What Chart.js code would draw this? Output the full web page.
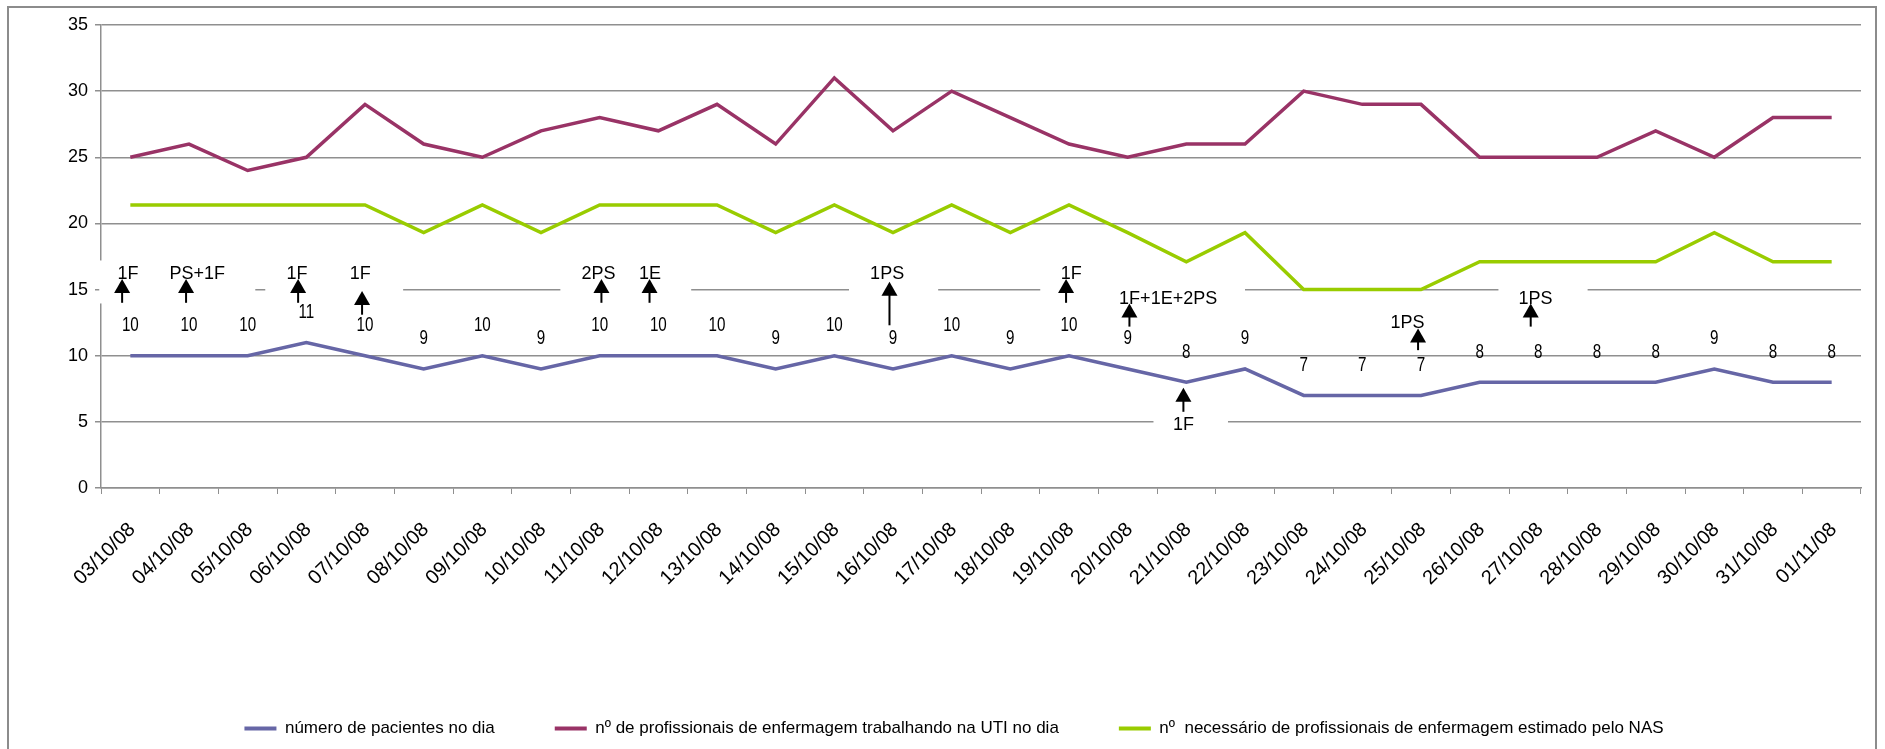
<!DOCTYPE html>
<html lang="pt">
<head>
<meta charset="utf-8">
<title>Pacientes e profissionais de enfermagem na UTI</title>
<script src="https://cdn.jsdelivr.net/npm/chart.js@4.4.1/dist/chart.umd.min.js"></script>
<style>
  html, body { margin: 0; padding: 0; background: #fff; overflow: hidden; }
  #moldura { position: absolute; left: 7px; top: 6px; width: 1870px; height: 800px; border: 2px solid #8c8c8c; box-sizing: border-box; }
  #grafico { position: absolute; left: 0; top: 0; }
</style>
</head>
<body>
<div id="moldura"></div>
<canvas id="grafico" width="1885" height="749"></canvas>
<script>
// datas (eixo x)
const datas = [
  '03/10/08', '04/10/08', '05/10/08', '06/10/08', '07/10/08', '08/10/08', '09/10/08', '10/10/08',
  '11/10/08', '12/10/08', '13/10/08', '14/10/08', '15/10/08', '16/10/08', '17/10/08', '18/10/08',
  '19/10/08', '20/10/08', '21/10/08', '22/10/08', '23/10/08', '24/10/08', '25/10/08', '26/10/08',
  '27/10/08', '28/10/08', '29/10/08', '30/10/08', '31/10/08', '01/11/08'
];

const pacientes = [10, 10, 10, 11, 10, 9, 10, 9, 10, 10, 10, 9, 10, 9, 10, 9, 10, 9, 8, 9, 7, 7, 7, 8, 8, 8, 8, 9, 8, 8];

const profissionais = [25, 26, 24, 25, 29, 26, 25, 27, 28, 27, 29, 26, 31, 27, 30, 28, 26, 25, 26, 26, 30, 29, 29, 25, 25, 25, 27, 25, 28, 28];

const necessarioNAS = [21.4, 21.4, 21.4, 21.4, 21.4, 19.3, 21.4, 19.3, 21.4, 21.4, 21.4, 19.3, 21.4, 19.3, 21.4, 19.3,
  21.4, 19.3, 17.1, 19.3, 15, 15, 15, 17.1, 17.1, 17.1, 17.1, 19.3, 17.1, 17.1];

const nomesSeries = [
  'número de pacientes no dia',
  'nº de profissionais de enfermagem trabalhando na UTI no dia',
  'nº  necessário de profissionais de enfermagem estimado pelo NAS'
];

const ticksY = [0, 5, 10, 15, 20, 25, 30, 35];

// caixas de texto com setas (posição em índice da categoria / valor do eixo y)
const anotacoes = [
  { texto: '1F',        tx: -0.04, ty: 16.2,  seta: -0.14, ponta: 15.8,  pe: 14.0 },
  { texto: 'PS+1F',     tx: 1.14,  ty: 16.2,  seta: 0.95,  ponta: 15.8,  pe: 14.0 },
  { texto: '1F',        tx: 2.84,  ty: 16.2,  seta: 2.86,  ponta: 15.8,  pe: 14.0 },
  { texto: '1F',        tx: 3.92,  ty: 16.2,  seta: 3.95,  ponta: 14.9,  pe: 13.1 },
  { texto: '2PS',       tx: 7.98,  ty: 16.2,  seta: 8.03,  ponta: 15.8,  pe: 14.0 },
  { texto: '1E',        tx: 8.86,  ty: 16.2,  seta: 8.85,  ponta: 15.8,  pe: 14.0 },
  { texto: '1PS',       tx: 12.9,  ty: 16.2,  seta: 12.94, ponta: 15.6,  pe: 12.3 },
  { texto: '1F',        tx: 16.04, ty: 16.2,  seta: 15.95, ponta: 15.8,  pe: 14.0 },
  { texto: '1F+1E+2PS', tx: 17.69, ty: 14.25, seta: 17.03, ponta: 13.95, pe: 12.2 },
  { texto: '1F',        tx: 17.95, ty: 4.76,  seta: 17.95, ponta: 7.58,  pe: 5.76 },
  { texto: '1PS',       tx: 21.77, ty: 12.5,  seta: 21.95, ponta: 12.06, pe: 10.42 },
  { texto: '1PS',       tx: 23.95, ty: 14.3,  seta: 23.87, ponta: 13.95, pe: 12.2 }
];

// fundos brancos das caixas de texto (escondem partes das linhas de grade)
const fundosBrancos = [
  { de: -0.53, ate: 2.13,  baixo: 13.95, alto: 17.2 },
  { de: 2.30,  ate: 4.65,  baixo: 14.3,  alto: 15.7 },
  { de: 7.33,  ate: 9.56,  baixo: 14.3,  alto: 15.7 },
  { de: 12.25, ate: 13.77, baixo: 14.3,  alto: 15.7 },
  { de: 15.51, ate: 19.0,  baixo: 14.3,  alto: 15.7 },
  { de: 23.32, ate: 24.84, baixo: 14.3,  alto: 15.7 },
  { de: 17.44, ate: 18.71, baixo: 4.3,   alto: 5.7 }
];

const fonte = "'Liberation Sans', Arial, sans-serif";
const cinza = '#8f8f8f';

const pluginAnotacoes = {
  id: 'anotacoes',
  beforeDatasetsDraw(chart) {
    const { ctx, scales: { x, y } } = chart;
    ctx.save();
    ctx.fillStyle = '#fff';
    fundosBrancos.forEach(f => {
      const x0 = x.getPixelForValue(f.de), x1 = x.getPixelForValue(f.ate);
      const y0 = y.getPixelForValue(f.alto), y1 = y.getPixelForValue(f.baixo);
      ctx.fillRect(x0, y0, x1 - x0, y1 - y0);
    });
    ctx.restore();
  },
  afterDatasetsDraw(chart) {
    const { ctx, scales: { x, y } } = chart;
    ctx.save();
    // rótulos de valor do número de pacientes (letra estreita)
    ctx.fillStyle = '#000';
    ctx.textAlign = 'center';
    ctx.textBaseline = 'middle';
    ctx.font = '20px ' + fonte;
    chart.getDatasetMeta(0).data.forEach((pt, i) => {
      ctx.save();
      ctx.translate(pt.x, pt.y - 30);
      ctx.scale(0.76, 1);
      ctx.fillText(String(pacientes[i]), 0, 0);
      ctx.restore();
    });
    // setas
    ctx.strokeStyle = '#000';
    ctx.lineWidth = 2;
    anotacoes.forEach(a => {
      const sx = x.getPixelForValue(a.seta);
      const yTopo = y.getPixelForValue(a.ponta);
      const yPe = y.getPixelForValue(a.pe);
      ctx.beginPath();
      ctx.moveTo(sx, yPe);
      ctx.lineTo(sx, yTopo + 12);
      ctx.stroke();
      ctx.beginPath();
      ctx.moveTo(sx, yTopo);
      ctx.lineTo(sx - 8, yTopo + 14);
      ctx.lineTo(sx + 8, yTopo + 14);
      ctx.closePath();
      ctx.fill();
    });
    // textos
    ctx.font = '18px ' + fonte;
    anotacoes.forEach(a => {
      ctx.fillText(a.texto, x.getPixelForValue(a.tx), y.getPixelForValue(a.ty));
    });
    ctx.restore();
  }
};

Chart.defaults.font.family = fonte;
Chart.defaults.color = '#000';

const ctx = document.getElementById('grafico').getContext('2d');

new Chart(ctx, {
  type: 'line',
  data: {
    labels: datas,
    datasets: [
      { label: nomesSeries[0], data: pacientes, borderColor: '#6666a6', backgroundColor: '#6666a6' },
      { label: nomesSeries[1], data: profissionais, borderColor: '#993366', backgroundColor: '#993366' },
      { label: nomesSeries[2], data: necessarioNAS, borderColor: '#99cc00', backgroundColor: '#99cc00' }
    ]
  },
  options: {
    responsive: false,
    animation: false,
    layout: { padding: { top: 25, right: 24, left: 47, bottom: 2 } },
    elements: {
      line: { borderWidth: 3.5, tension: 0, borderJoinStyle: 'miter' },
      point: { radius: 0, hoverRadius: 0 }
    },
    plugins: {
      tooltip: { enabled: false },
      legend: {
        position: 'bottom',
        labels: {
          boxWidth: 32,
          boxHeight: 4,
          padding: 60,
          color: '#000',
          font: { family: fonte, size: 17 },
          generateLabels(chart) {
            return Chart.defaults.plugins.legend.labels.generateLabels(chart)
              .map(l => Object.assign(l, { fillStyle: l.strokeStyle, lineWidth: 0 }));
          }
        }
      }
    },
    scales: {
      x: {
        offset: true,
        grid: { offset: true, drawOnChartArea: false, drawTicks: true, tickLength: 6, color: cinza, lineWidth: 1 },
        border: { color: cinza, width: 1.5 },
        ticks: {
          autoSkip: false, maxRotation: 45, minRotation: 45, padding: 24, labelOffset: 2,
          font: { family: fonte, size: 20 }, color: '#000'
        },
        afterFit(scale) { scale.height = 172; }
      },
      y: {
        min: 0,
        max: 35,
        afterBuildTicks(scale) { scale.ticks = ticksY.map(v => ({ value: v })); },
        grid: { color: cinza, lineWidth: 1.5, tickLength: 6 },
        border: { color: cinza, width: 1.5 },
        ticks: { padding: 7, font: { family: fonte, size: 18 }, color: '#000' },
        afterFit(scale) { scale.width = 54; }
      }
    }
  },
  plugins: [pluginAnotacoes]
});
</script>
</body>
</html>
